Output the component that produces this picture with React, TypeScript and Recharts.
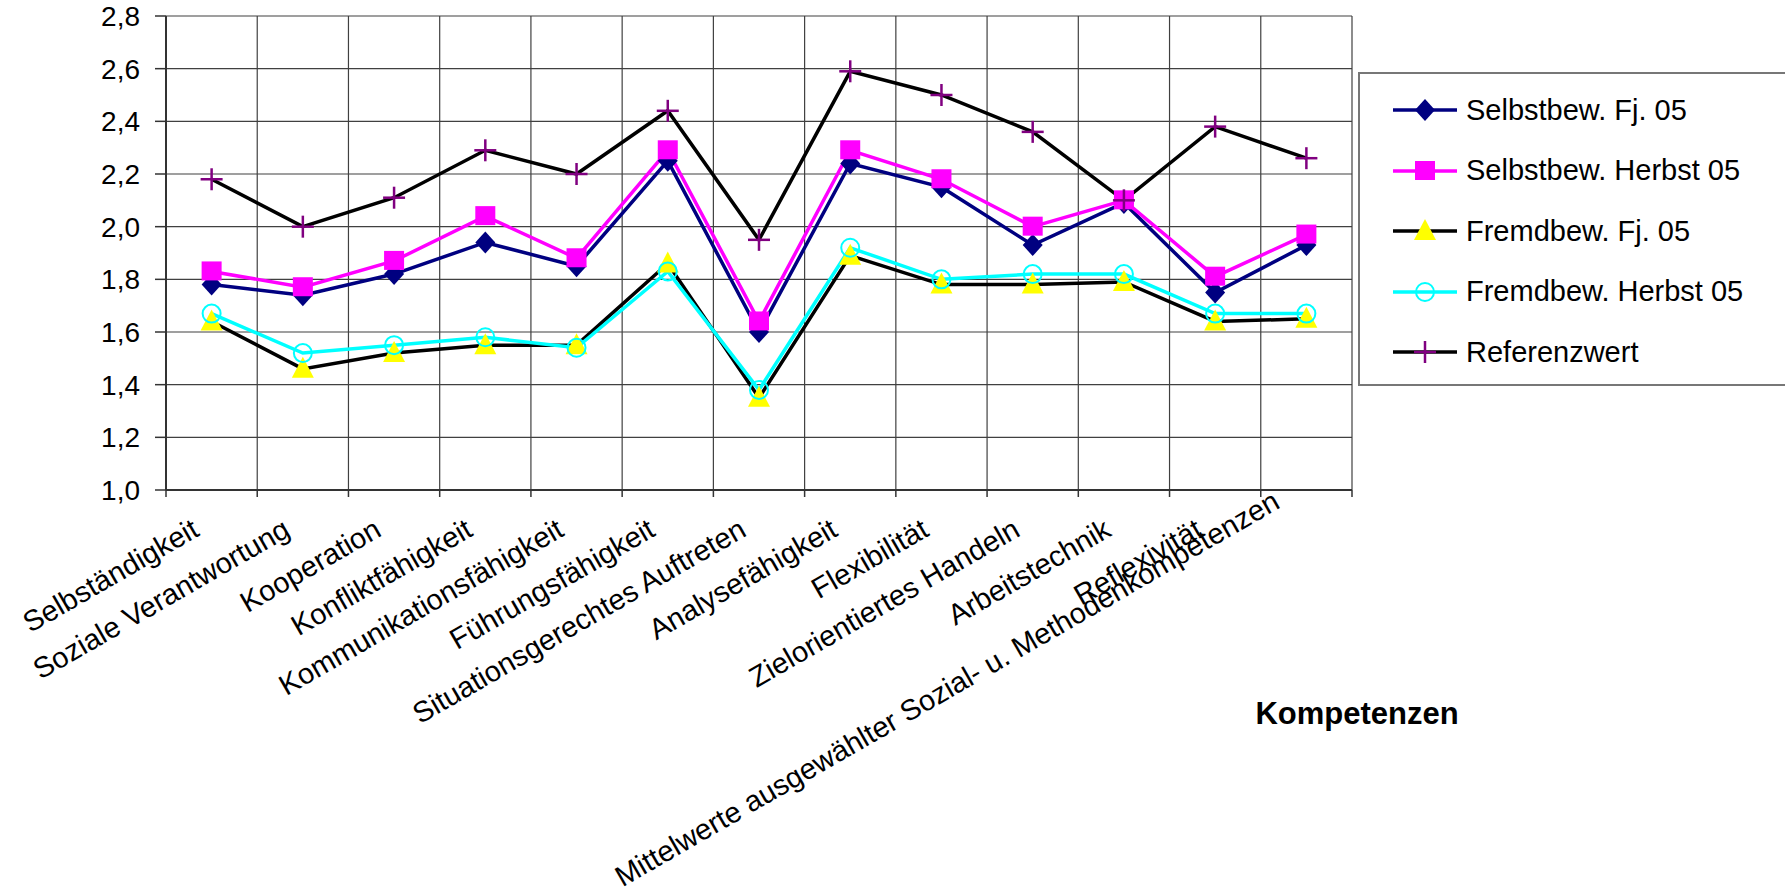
import React from 'react';
import { LineChart, Line, XAxis, YAxis, CartesianGrid } from 'recharts';

const categories = [
  'Selbständigkeit',
  'Soziale Verantwortung',
  'Kooperation',
  'Konfliktfähigkeit',
  'Kommunikationsfähigkeit',
  'Führungsfähigkeit',
  'Situationsgerechtes Auftreten',
  'Analysefähigkeit',
  'Flexibilität',
  'Zielorientiertes Handeln',
  'Arbeitstechnik',
  'Reflexivität',
  'Mittelwerte ausgewählter Sozial- u. Methodenkompetenzen',
];

const selbstFj = [1.78, 1.74, 1.82, 1.94, 1.85, 2.25, 1.6, 2.24, 2.15, 1.93, 2.09, 1.75, 1.93];
const selbstHerbst = [1.83, 1.77, 1.87, 2.04, 1.88, 2.29, 1.64, 2.29, 2.18, 2.0, 2.1, 1.81, 1.97];
const fremdFj = [1.64, 1.46, 1.52, 1.55, 1.55, 1.86, 1.35, 1.89, 1.78, 1.78, 1.79, 1.64, 1.65];
const fremdHerbst = [1.67, 1.52, 1.55, 1.58, 1.54, 1.83, 1.38, 1.92, 1.8, 1.82, 1.82, 1.67, 1.67];
const referenz = [2.18, 2.0, 2.11, 2.29, 2.2, 2.44, 1.95, 2.59, 2.5, 2.36, 2.1, 2.38, 2.26];

const yTicks = [1.0, 1.2, 1.4, 1.6, 1.8, 2.0, 2.2, 2.4, 2.6, 2.8];

const data = categories.map((name, i) => ({
  name,
  selbstFj: selbstFj[i],
  selbstHerbst: selbstHerbst[i],
  fremdFj: fremdFj[i],
  fremdHerbst: fremdHerbst[i],
  referenz: referenz[i],
}));

const FONT = 'Arial, "Liberation Sans", sans-serif';
const STEP = 1186 / categories.length;

const series = [
  { key: 'selbstFj', name: 'Selbstbew. Fj. 05', line: '#000080', marker: 'diamond' },
  { key: 'selbstHerbst', name: 'Selbstbew. Herbst 05', line: '#ff00ff', marker: 'square' },
  { key: 'fremdFj', name: 'Fremdbew. Fj. 05', line: '#000000', marker: 'triangle' },
  { key: 'fremdHerbst', name: 'Fremdbew. Herbst 05', line: '#00ffff', marker: 'circle' },
  { key: 'referenz', name: 'Referenzwert', line: '#000000', marker: 'plus' },
];

const Marker = ({ type, cx, cy }) => {
  if (cx == null || cy == null) return null;
  switch (type) {
    case 'diamond':
      return <polygon points={`${cx},${cy - 11} ${cx + 10},${cy} ${cx},${cy + 11} ${cx - 10},${cy}`} fill="#000080" />;
    case 'square':
      return <rect x={cx - 10} y={cy - 10} width={20} height={19} fill="#ff00ff" />;
    case 'triangle':
      return <polygon points={`${cx},${cy - 12} ${cx + 11},${cy + 9} ${cx - 11},${cy + 9}`} fill="#ffff00" />;
    case 'circle':
      return <circle cx={cx} cy={cy} r={9} fill="none" stroke="#00ffff" strokeWidth={2} />;
    case 'plus':
      return (
        <g stroke="#800080" strokeWidth={2.5}>
          <line x1={cx - 11} y1={cy} x2={cx + 11} y2={cy} />
          <line x1={cx} y1={cy - 11} x2={cx} y2={cy + 11} />
        </g>
      );
    default:
      return null;
  }
};

const CategoryTick = ({ x, y, payload, index }) => {
  // the very long last label sits a bit higher in the original
  const long = payload.value.length > 40;
  const ax = x - 11 - (long ? 14 : 0);
  const ay = y + 45 - (long ? 28 : 0);
  const left = x - STEP / 2;
  return (
    <g>
      <line x1={left} y1={y} x2={left} y2={y + 7} stroke="#333" strokeWidth={1.5} />
      {index === categories.length - 1 && (
        <line x1={x + STEP / 2} y1={y} x2={x + STEP / 2} y2={y + 7} stroke="#333" strokeWidth={1.5} />
      )}
      <text
        x={ax}
        y={ay}
        textAnchor="end"
        transform={`rotate(-30, ${ax}, ${ay})`}
        fontSize={29}
        fontFamily={FONT}
        fill="#000"
      >
        {payload.value}
      </text>
    </g>
  );
};

const LegendBox = () => (
  <div
    style={{
      position: 'absolute',
      left: 1358,
      top: 72,
      width: 440,
      height: 314,
      border: '2px solid #777',
      background: '#fff',
      paddingTop: 6,
      boxSizing: 'border-box',
      fontFamily: FONT,
      fontSize: 29,
      color: '#000',
    }}
  >
    {series.map((s) => (
      <div key={s.key} style={{ display: 'flex', alignItems: 'center', height: 60.5 }}>
        <svg width={66} height={30} style={{ marginLeft: 33, flex: 'none' }}>
          <line x1={0} y1={15} x2={64} y2={15} stroke={s.line} strokeWidth={3.5} />
          <Marker type={s.marker} cx={32} cy={15} />
        </svg>
        <span style={{ marginLeft: 7, whiteSpace: 'nowrap' }}>{s.name}</span>
      </div>
    ))}
  </div>
);

export default function App() {
  return (
    <div style={{ position: 'absolute', left: 0, top: 0, width: 1785, height: 896, overflow: 'hidden', background: '#fff' }}>
      <LineChart width={1785} height={896} data={data} margin={{ top: 16, right: 433, left: 0, bottom: 0 }}>
        <CartesianGrid
          stroke="#404040"
          strokeWidth={1.2}
          verticalCoordinatesGenerator={({ offset }) =>
            categories.map((_, i) => offset.left + (i * offset.width) / categories.length).concat(offset.left + offset.width)
          }
        />
        <XAxis
          dataKey="name"
          scale="band"
          interval={0}
          height={406}
          tickLine={false}
          tickSize={0}
          tickMargin={0}
          axisLine={{ stroke: '#333', strokeWidth: 2 }}
          tick={<CategoryTick />}
        />
        <YAxis
          width={166}
          domain={[1, 2.8]}
          ticks={yTicks}
          interval={0}
          tickSize={11}
          tickMargin={15}
          tickFormatter={(v) => v.toFixed(1).replace('.', ',')}
          tick={{ fontSize: 28, fontFamily: FONT, fill: '#000' }}
          tickLine={{ stroke: '#333', strokeWidth: 1.5 }}
          axisLine={{ stroke: '#333', strokeWidth: 2 }}
        />
        {series.map((s) => (
          <Line
            key={s.key}
            dataKey={s.key}
            name={s.name}
            type="linear"
            stroke={s.line}
            strokeWidth={3.5}
            isAnimationActive={false}
            activeDot={false}
            dot={(p) => <Marker key={`${s.key}-${p.index}`} type={s.marker} cx={p.cx} cy={p.cy} />}
          />
        ))}
      </LineChart>
      <LegendBox />
      <div
        style={{
          position: 'absolute',
          left: 1357,
          top: 698,
          transform: 'translateX(-50%)',
          fontFamily: FONT,
          fontWeight: 'bold',
          fontSize: 31,
          lineHeight: '31px',
          whiteSpace: 'nowrap',
        }}
      >
        Kompetenzen
      </div>
    </div>
  );
}
